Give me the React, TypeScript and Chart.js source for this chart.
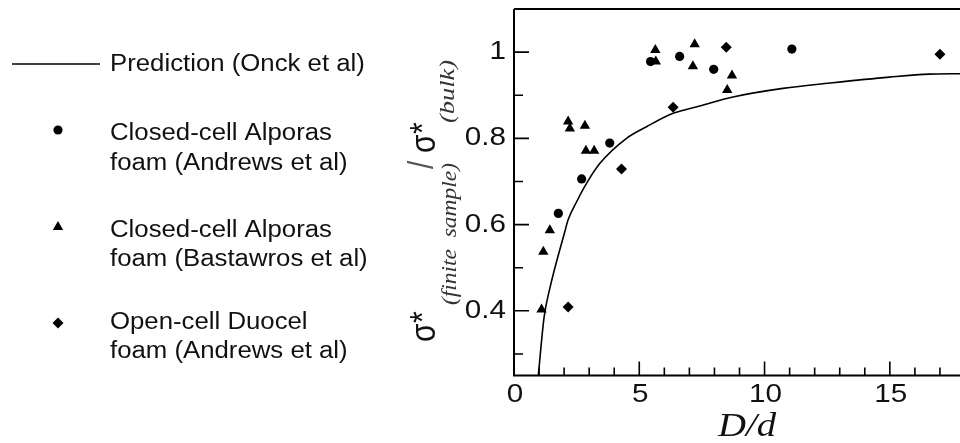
import React, { useEffect, useRef } from "react";
import { Chart, registerables } from "chart.js";

Chart.register(...registerables);

// ---- data ----
const predX = [0.97, 1.2, 1.43, 2.03, 2.16, 2.5, 2.9, 3.43, 4.49, 5.29, 6.35, 7.41, 8.74, 10.73, 12.72, 14.98, 16.57, 17.8];
const predY = [0.25, 0.385, 0.452, 0.584, 0.611, 0.653, 0.696, 0.742, 0.8, 0.827, 0.858, 0.875, 0.896, 0.916, 0.929, 0.942, 0.949, 0.95];

const andrewsClosedX = [1.77, 2.7, 3.82, 5.45, 6.61, 7.97, 11.09];
const andrewsClosedY = [0.626, 0.706, 0.789, 0.978, 0.99, 0.96, 1.007];

const bastawrosX = [1.1, 1.17, 1.43, 2.16, 2.23, 2.83, 2.87, 3.2, 5.64, 5.66, 7.21, 7.14, 8.7, 8.51];
const bastawrosY = [0.403, 0.537, 0.587, 0.839, 0.823, 0.829, 0.771, 0.771, 1.005, 0.978, 1.018, 0.967, 0.946, 0.912];

const duocelX = [2.16, 4.29, 6.35, 8.47, 17.0];
const duocelY = [0.409, 0.729, 0.872, 1.011, 0.995];

const seriesLabels = [
  "Prediction (Onck et al)",
  "Closed-cell Alporas\nfoam (Andrews et al)",
  "Closed-cell Alporas\nfoam (Bastawros et al)",
  "Open-cell Duocel\nfoam (Andrews et al)",
];

const xMajorTicks = [0, 5, 10, 15];
const xTickLabels = ["0", "5", "10", "15"];
const xMinorTicks = [1, 2, 3, 4, 6, 7, 8, 9, 11, 12, 13, 14, 16, 17];
const yMajorTicks = [0.4, 0.6, 0.8, 1];
const yTickLabels = ["0.4", "0.6", "0.8", "1"];
const yMinorTicks = [0.3, 0.5, 0.7, 0.9];

const xTitle = "D/d";

const zip = (xs: number[], ys: number[]) => xs.map((x, i) => ({ x, y: ys[i] }));

const SX = 1.14;
const INK = "#111";

function drawText(ctx: CanvasRenderingContext2D, text: string, x: number, y: number, font: string, align: CanvasTextAlign, sx = SX) {
  ctx.save();
  ctx.translate(x, y);
  ctx.scale(sx, 1);
  ctx.font = font;
  ctx.textAlign = align;
  ctx.textBaseline = "alphabetic";
  ctx.fillStyle = INK;
  ctx.fillText(text, 0, 0);
  ctx.restore();
}

// rotated (reading bottom-to-top) text starting at page (x=baseline, y=start), optional length fit
function drawRot(ctx: CanvasRenderingContext2D, text: string, x: number, y: number, font: string, len?: number, color = INK) {
  ctx.save();
  ctx.translate(x, y);
  ctx.scale(SX, 1);
  ctx.rotate(-Math.PI / 2);
  ctx.font = font;
  ctx.textAlign = "left";
  ctx.textBaseline = "alphabetic";
  ctx.fillStyle = color;
  if (len) {
    const w = ctx.measureText(text).width;
    ctx.scale(len / w, 1);
  }
  ctx.fillText(text, 0, 0);
  ctx.restore();
}

function drawMarker(ctx: CanvasRenderingContext2D, style: string, r: number, x: number, y: number) {
  ctx.beginPath();
  if (style === "circle") {
    ctx.arc(x, y, r, 0, Math.PI * 2);
  } else if (style === "triangle") {
    let rad = 0;
    ctx.moveTo(x + Math.sin(rad) * r, y - Math.cos(rad) * r);
    rad += (2 * Math.PI) / 3;
    ctx.lineTo(x + Math.sin(rad) * r, y - Math.cos(rad) * r);
    rad += (2 * Math.PI) / 3;
    ctx.lineTo(x + Math.sin(rad) * r, y - Math.cos(rad) * r);
    ctx.closePath();
  } else {
    ctx.moveTo(x, y - r);
    ctx.lineTo(x + r, y);
    ctx.lineTo(x, y + r);
    ctx.lineTo(x - r, y);
    ctx.closePath();
  }
  ctx.fill();
}

const decoPlugin = {
  id: "deco",
  afterDraw(chart: any) {
    const { ctx, chartArea: a, scales } = chart;
    const xs = scales.x;
    const ys = scales.y;
    ctx.save();
    // frame
    ctx.strokeStyle = "#000";
    ctx.lineWidth = 2;
    ctx.beginPath();
    ctx.moveTo(a.left, a.top);
    ctx.lineTo(a.right, a.top);
    ctx.moveTo(a.left, a.top);
    ctx.lineTo(a.left, a.bottom);
    ctx.lineTo(a.right, a.bottom);
    ctx.stroke();
    // ticks
    ctx.lineWidth = 1.6;
    ctx.beginPath();
    xMajorTicks.forEach((v) => {
      const p = xs.getPixelForValue(v);
      ctx.moveTo(p, a.bottom);
      ctx.lineTo(p, a.bottom - 14);
    });
    xMinorTicks.forEach((v) => {
      const p = xs.getPixelForValue(v);
      ctx.moveTo(p, a.bottom);
      ctx.lineTo(p, a.bottom - 8);
    });
    yMajorTicks.forEach((v) => {
      const p = ys.getPixelForValue(v);
      ctx.moveTo(a.left, p);
      ctx.lineTo(a.left + 15, p);
    });
    yMinorTicks.forEach((v) => {
      const p = ys.getPixelForValue(v);
      ctx.moveTo(a.left, p);
      ctx.lineTo(a.left + 9, p);
    });
    ctx.stroke();
    // tick labels
    const tf = '26px "Liberation Sans", Arial, sans-serif';
    xMajorTicks.forEach((v, i) => {
      drawText(ctx, xTickLabels[i], xs.getPixelForValue(v) + 1, a.bottom + 26, tf, "center");
    });
    yMajorTicks.forEach((v, i) => {
      drawText(ctx, yTickLabels[i], a.left - 8, ys.getPixelForValue(v) + 7, tf, "right");
    });
    // x title
    drawText(ctx, xTitle, 747, 436, 'italic 34px "Liberation Serif", "Times New Roman", serif', "center");
    // y title
    const sf = '30px "Liberation Sans", Arial, sans-serif';
    const subf = 'italic 19px "Liberation Serif", "Times New Roman", serif';
    drawRot(ctx, "σ", 435, 342, sf);
    drawRot(ctx, "*", 434, 323, sf);
    drawRot(ctx, "(finite  sample)", 456, 305, subf, 142, "#333");
    drawRot(ctx, "/", 433, 169, sf, undefined, "#555");
    drawRot(ctx, "σ", 435, 153, sf);
    drawRot(ctx, "*", 434, 134, sf);
    drawRot(ctx, "(bulk)", 454, 123, subf, 63, "#333");
    ctx.restore();

    // legend
    const lf = '23px "Liberation Sans", Arial, sans-serif';
    const ds = chart.data.datasets;
    const textX = 110;
    const firstBase = [71, 140, 236.5, 328.5];
    const markerY = [64, 130, 227, 323];
    ds.forEach((d: any, i: number) => {
      ctx.save();
      ctx.fillStyle = "#000";
      ctx.strokeStyle = "#000";
      if (d.showLine) {
        ctx.lineWidth = 1.6;
        ctx.beginPath();
        ctx.moveTo(12, markerY[i]);
        ctx.lineTo(100, markerY[i]);
        ctx.stroke();
      } else {
        drawMarker(ctx, d.pointStyle, d.pointRadius, 58, markerY[i]);
      }
      ctx.restore();
      String(d.label)
        .split("\n")
        .forEach((line: string, j: number) => {
          drawText(ctx, line, textX, firstBase[i] + j * 29.5, lf, "left", 1.12);
        });
    });
  },
};

export default function App() {
  const ref = useRef<HTMLCanvasElement | null>(null);
  useEffect(() => {
    if (!ref.current) return;
    const chart = new Chart(ref.current, {
      type: "scatter",
      data: {
        datasets: [
          {
            label: seriesLabels[0],
            data: zip(predX, predY),
            showLine: true,
            borderColor: "#000",
            borderWidth: 1.6,
            pointRadius: 0,
            cubicInterpolationMode: "monotone",
          } as any,
          {
            label: seriesLabels[1],
            data: zip(andrewsClosedX, andrewsClosedY),
            pointStyle: "circle",
            pointRadius: 4.6,
            backgroundColor: "#000",
            borderWidth: 0,
          },
          {
            label: seriesLabels[2],
            data: zip(bastawrosX, bastawrosY),
            pointStyle: "triangle",
            pointRadius: 6,
            backgroundColor: "#000",
            borderWidth: 0,
          },
          {
            label: seriesLabels[3],
            data: zip(duocelX, duocelY),
            pointStyle: "rectRot",
            pointRadius: 5.5,
            backgroundColor: "#000",
            borderWidth: 0,
          },
        ],
      },
      options: {
        animation: false,
        responsive: false,
        maintainAspectRatio: false,
        devicePixelRatio: 1,
        events: [],
        layout: { autoPadding: false, padding: { left: 514, right: 0, top: 9, bottom: 67.5 } },
        scales: {
          x: { type: "linear", min: 0, max: 17.8, display: false },
          y: { type: "linear", min: 0.25, max: 1.1, display: false },
        },
        plugins: {
          legend: { display: false },
          tooltip: { enabled: false },
        },
      },
      plugins: [decoPlugin],
    });
    return () => chart.destroy();
  }, []);
  return (
    <div style={{ position: "absolute", left: 0, top: 0, width: 960, height: 443, background: "#fff" }}>
      <canvas ref={ref} width={960} height={443} style={{ display: "block", width: 960, height: 443 }} />
    </div>
  );
}
